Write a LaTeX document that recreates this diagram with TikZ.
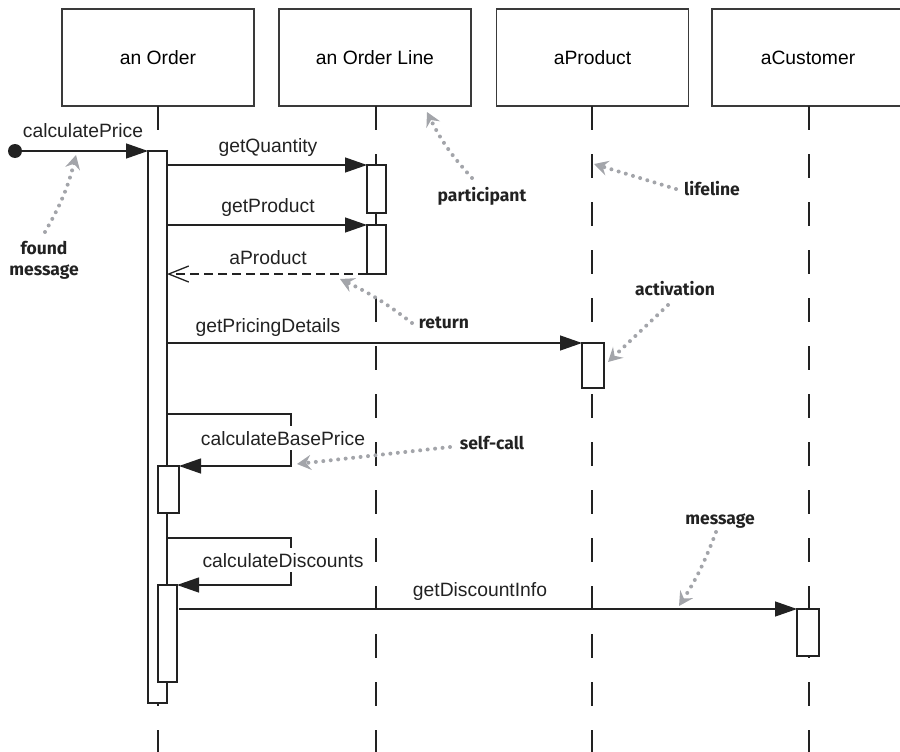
\documentclass[tikz,border=0pt]{standalone}
\usepackage{fontspec}
\setmainfont{Liberation Sans}
\newfontfamily\notefont{Fira Sans}
\usetikzlibrary{arrows.meta}
\definecolor{ink}{HTML}{222222}
\definecolor{boxline}{HTML}{3A3A3A}
\definecolor{notegray}{HTML}{A3A5AA}
\begin{document}
\begin{tikzpicture}[x=1pt,y=-1pt,
  part/.style={draw=boxline, line width=1.4pt, minimum width=192pt, minimum height=97pt, inner sep=0pt, outer sep=0pt, font=\fontsize{19.3}{23}\selectfont},
  lifeline/.style={draw=ink, line width=1.3pt, dash pattern=on 24pt off 24pt},
  actbar/.style={draw=ink, fill=white, line width=1.3pt, inner sep=0pt, outer sep=0pt, anchor=north west},
  msg/.style={draw=ink, line width=1.3pt, -{Triangle[length=22pt,width=15pt]}},
  ret/.style={draw=ink, line width=1.3pt, dash pattern=on 9pt off 5pt, -{Straight Barb[length=20pt,width=16pt]}},
  lbl/.style={font=\fontsize{19.3}{23}\selectfont, text=ink, anchor=base, inner sep=0pt},
  selflbl/.style={lbl, fill=white, inner xsep=2pt, inner ysep=5pt},
  note/.style={font=\notefont\bfseries\fontsize{17.5}{20}\selectfont, text=ink, anchor=base, inner sep=0pt, align=center},
  pointer/.style={draw=notegray, line width=4pt, line cap=round, dash pattern=on 0pt off 7.5pt, -{Stealth[length=14pt,width=15pt,inset=5pt,fill=notegray]}}
]
\useasboundingbox (0,0) rectangle (900,752);
\clip (0,0) rectangle (900,752);

% participants
\node[part] (pO) at (158,57.5) {an Order};
\node[part] (pL) at (375,57.5) {an Order Line};
\node[part] (pP) at (592.5,57.5) {aProduct};
\node[part] (pC) at (808,57.5) {aCustomer};

% lifelines
\coordinate (bot) at (0,760);
\draw[lifeline] (pO.south) -- (pO.south |- bot);
\draw[lifeline] (376,106) coordinate (lLt) -- (lLt |- bot);
\draw[lifeline] (592,106) coordinate (lPt) -- (lPt |- bot);
\draw[lifeline] (809,106) coordinate (lCt) -- (lCt |- bot);

% activations
\node[actbar, minimum width=19pt, minimum height=552pt] (aO) at (148,151) {};
\node[actbar, minimum width=19pt, minimum height=48pt] (aL1) at (367,165) {};
\node[actbar, minimum width=19pt, minimum height=49pt] (aL2) at (367,225) {};
\node[actbar, minimum width=22pt, minimum height=45pt] (aP) at (582,343) {};
\node[actbar, minimum width=21pt, minimum height=47pt] (aO2) at (158,466) {};
\node[actbar, minimum width=19pt, minimum height=97pt] (aO3) at (158,585) {};
\node[actbar, minimum width=22pt, minimum height=47pt] (aC) at (797,609) {};

% found message
\node[circle, fill=ink, minimum size=14pt, inner sep=0pt] (start) at (15,151) {};
\draw[msg] (start) -- (aO.north west);
\node[lbl] (tPrice) at (83,137) {calculatePrice};

% messages
\draw[msg] (aO.east |- aL1.north) -- (aL1.north west);
\node[lbl] (tQty) at (268,152) {getQuantity};
\draw[msg] (aO.east |- aL2.north) -- (aL2.north west);
\node[lbl] (tProd) at (268,212) {getProduct};
\draw[ret] (aL2.south west) -- (aO.east |- aL2.south);
\node[lbl] (tRet) at (268,264) {aProduct};
\draw[msg] (aO.east |- aP.north) -- (aP.north west);
\node[lbl] (tPricing) at (268,332) {getPricingDetails};

% self calls
\coordinate (sc1) at (291,414);
\draw[msg] (aO.east |- sc1) -- (sc1) -- (sc1 |- aO2.north) -- (aO2.north east);
\node[selflbl] (tBase) at (283,445) {calculateBasePrice};
\coordinate (sc2) at (291,538);
\draw[msg] (aO.east |- sc2) -- (sc2) -- (sc2 |- aO3.north) -- (aO3.north east);
\node[selflbl] (tDisc) at (283,567) {calculateDiscounts};

\draw[msg] ([xshift=2pt]aO3.east |- aC.north) -- (aC.north west);
\node[lbl] (tInfo) at (480,596) {getDiscountInfo};

% annotations
\node[note] (nFound) at (44,254) {found};
\node[note] (nFound2) at (44,275) {message};
\coordinate (fS) at (45,232); \coordinate (fT) at (76,155);
\draw[pointer] (fS) to[bend right=8] (fT);

\node[note] (nPart) at (482,201) {participant};
\coordinate (paS) at (472,178); \coordinate (paT) at (427,112);
\draw[pointer] (paS) to[bend left=8] (paT);

\node[note] (nLife) at (712,195) {lifeline};
\coordinate (liS) at (676,189); \coordinate (liT) at (594,164);
\draw[pointer] (liS) -- (liT);

\node[note] (nRet) at (444,328) {return};
\coordinate (rS) at (412,323); \coordinate (rT) at (340,279);
\draw[pointer] (rS) to[bend right=6] (rT);

\node[note] (nAct) at (675,295) {activation};
\coordinate (acS) at (668,305); \coordinate (acT) at (608,362);
\draw[pointer] (acS) -- (acT);

\node[note] (nSelf) at (492,449) {self-call};
\coordinate (sS) at (450,447); \coordinate (sT) at (297,464);
\draw[pointer] (sS) -- (sT);

\node[note] (nMsg) at (720,524) {message};
\coordinate (mS) at (716,532); \coordinate (mT) at (679,606);
\draw[pointer] (mS) to[bend left=6] (mT);
\end{tikzpicture}
\end{document}
